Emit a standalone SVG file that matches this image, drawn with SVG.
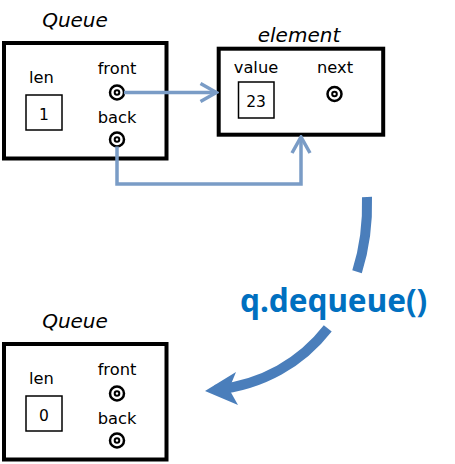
<svg xmlns="http://www.w3.org/2000/svg" width="455" height="464" viewBox="0 0 455 464">
<style>
.box{fill:#fff;stroke:#000;stroke-width:4}
.cell{fill:#fff;stroke:#000;stroke-width:1.5}
.title{font-family:"DejaVu Sans",Verdana,sans-serif;font-style:italic;font-size:20px;fill:#000;text-anchor:middle}
.lbl{font-family:"DejaVu Sans",Verdana,sans-serif;font-size:16.3px;fill:#000;text-anchor:middle}
.num{font-family:"DejaVu Sans",Verdana,sans-serif;font-size:15.5px;fill:#000;text-anchor:middle}
.ptr{fill:#fff;stroke:#000;stroke-width:2.5}
.ptrin{fill:#fff;stroke:#000;stroke-width:2}
.conn{fill:none;stroke:#7A9CC6;stroke-width:3.5}
.big{fill:none;stroke:#4A7EBB;stroke-width:10}
.op{font-family:"Noto Sans","Open Sans",sans-serif;font-weight:bold;font-size:31.5px;fill:#0070C0}
</style>
<defs>
<marker id="chev" markerUnits="userSpaceOnUse" viewBox="-18 -11 20 22" markerWidth="20" markerHeight="22" refX="0" refY="0" orient="auto">
<path d="M-16,-9 L0,0 L-16,9" fill="none" stroke="#7A9CC6" stroke-width="3.5"/>
</marker>
</defs>
<g id="queue1">
<text class="title" x="75" y="27">Queue</text>
<rect class="box" x="4" y="43" width="162.5" height="115.5"/>
<text class="lbl" x="41.5" y="83">len</text>
<rect class="cell" x="26" y="95" width="36" height="35"/>
<text class="num" x="44" y="119.5">1</text>
<text class="lbl" x="117" y="74">front</text>
<circle class="ptr" cx="117" cy="92.5" r="7"/>
<circle class="ptrin" cx="117" cy="92.5" r="2.3"/>
<text class="lbl" x="117" y="123">back</text>
<circle class="ptr" cx="117" cy="139.5" r="7"/>
<circle class="ptrin" cx="117" cy="139.5" r="2.3"/>
</g>
<g id="element">
<text class="title" x="299" y="42">element</text>
<rect class="box" x="218.7" y="48.7" width="164.5" height="86"/>
<text class="lbl" x="256" y="73">value</text>
<rect class="cell" x="238.5" y="82" width="35.5" height="36"/>
<text class="num" x="256" y="106.5">23</text>
<text class="lbl" x="335" y="73">next</text>
<circle class="ptr" cx="334.5" cy="94" r="7"/>
<circle class="ptrin" cx="334.5" cy="94" r="2.3"/>
</g>
<g id="connectors">
<path class="conn" d="M124,92.5 H216.5" marker-end="url(#chev)"/>
<path class="conn" d="M117,146.5 V184 H301 V137" marker-end="url(#chev)"/>
</g>
<g id="dequeue-arrow">
<path class="big" d="M367,197 C367.78,223.78 364.30,249.01 357.05,271.85"/>
<path class="big" d="M327.75,328.38 C301.25,362.5 262.5,385 215,390"/>
<polygon points="205,391 236,372 229,389 238,405" fill="#4A7EBB"/>
<text class="op" x="240" y="312">q.dequeue()</text>
</g>
<g id="queue2">
<text class="title" x="75" y="328">Queue</text>
<rect class="box" x="4" y="344" width="162.5" height="115.5"/>
<text class="lbl" x="41.5" y="384">len</text>
<rect class="cell" x="26" y="396" width="36" height="35"/>
<text class="num" x="44" y="420.5">0</text>
<text class="lbl" x="117" y="375">front</text>
<circle class="ptr" cx="117" cy="393.5" r="7"/>
<circle class="ptrin" cx="117" cy="393.5" r="2.3"/>
<text class="lbl" x="117" y="424">back</text>
<circle class="ptr" cx="117" cy="440.5" r="7"/>
<circle class="ptrin" cx="117" cy="440.5" r="2.3"/>
</g>
</svg>
